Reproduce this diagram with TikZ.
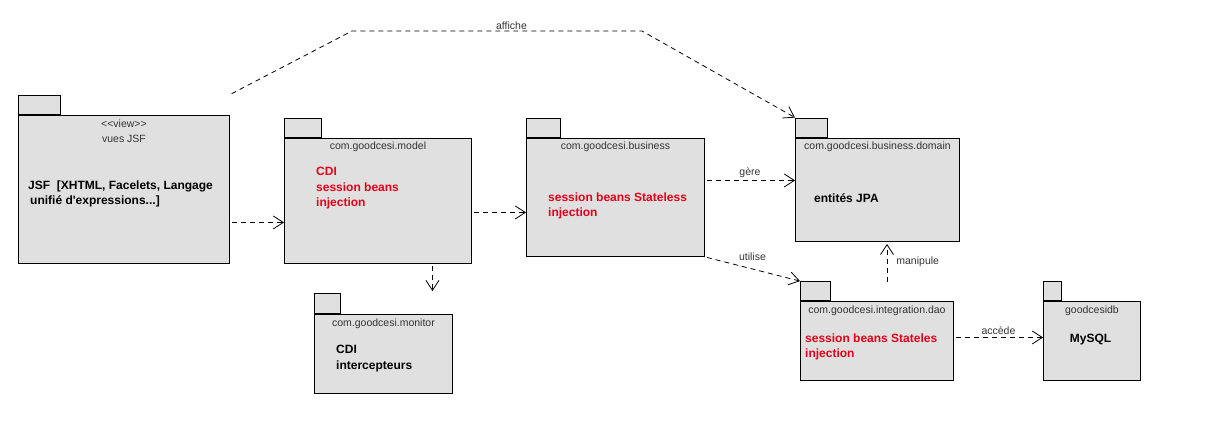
\documentclass[tikz,border=0pt]{standalone}
\usepackage{fontspec}
\setmainfont{Liberation Sans}
\usetikzlibrary{arrows.meta, positioning, calc}
\definecolor{pkgfill}{RGB}{224,224,224}
\definecolor{pkgred}{RGB}{228,0,24}
\definecolor{labelgray}{RGB}{51,51,51}

\begin{document}
\begin{tikzpicture}[x=1pt, y=-1pt]

% TikZ styles
\tikzset{
  pkg/.style={rectangle, draw=black, fill=pkgfill, line width=0.9pt, inner sep=0pt, anchor=north west},
  pkgtab/.style={rectangle, draw=black, fill=pkgfill, line width=0.9pt, inner sep=0pt, anchor=south west, minimum height=19.5pt},
  pkgtitle/.style={font=\fontsize{10.5}{12}\selectfont, text=labelgray, inner sep=0pt, anchor=base},
  content/.style={font=\fontsize{12}{15.5}\selectfont\bfseries, align=left, inner sep=0pt, anchor=north west},
  redcontent/.style={content, text=pkgred},
  dep/.style={-{Straight Barb[length=10pt, width=13pt]}, dash pattern=on 5pt off 4pt, line width=0.8pt},
  deplabel/.style={font=\fontsize{10.5}{12}\selectfont, text=labelgray, inner sep=1pt}
}

\useasboundingbox (0,0) rectangle (1206,428);

%==========================
% Pakete
%==========================
\node[pkg, minimum width=211pt, minimum height=148pt] (view) at (18,115) {};
\node[pkgtab, minimum width=42pt] (viewtab) at (view.north west) {};
\node[pkgtitle] at (124,127) {<\kern0pt<view>\kern0pt>};
\node[pkgtitle] at (124,142.5) {vues JSF};
\node[content] (viewtext) at (28,180.3) {JSF\ \ [XHTML, Facelets, Langage\\\hspace*{2pt}unifié d\textquotesingle expressions...]};

\node[pkg, minimum width=187pt, minimum height=125pt] (model) at (284,138) {};
\node[pkgtab, minimum width=37pt] (modeltab) at (model.north west) {};
\node[pkgtitle] at ([yshift=-11pt]model.north) {com.goodcesi.model};
\node[redcontent] (modeltext) at (316,167.1) {CDI\\session beans\\injection};

\node[pkg, minimum width=178pt, minimum height=118pt] (business) at (526,138) {};
\node[pkgtab, minimum width=34pt] (businesstab) at (business.north west) {};
\node[pkgtitle] at ([yshift=-11pt]business.north) {com.goodcesi.business};
\node[redcontent] (businesstext) at (548,192.3) {session beans Stateless\\injection};

\node[pkg, minimum width=164pt, minimum height=103pt] (domain) at (795,138) {};
\node[pkgtab, minimum width=32pt] (domaintab) at (domain.north west) {};
\node[pkgtitle] at ([yshift=-11pt]domain.north) {com.goodcesi.business.domain};
\node[content, anchor=base west] (domaintext) at (814,202.3) {entités JPA};

\node[pkg, minimum width=153pt, minimum height=79pt] (dao) at (800,301) {};
\node[pkgtab, minimum width=30pt, minimum height=19pt] (daotab) at (dao.north west) {};
\node[pkgtitle] at ([yshift=-12pt]dao.north) {com.goodcesi.integration.dao};
\node[redcontent] (daotext) at (805,333.3) {session beans Stateles\\injection};

\node[pkg, minimum width=97pt, minimum height=79pt] (db) at (1043,301) {};
\node[pkgtab, minimum width=18pt, minimum height=19pt] (dbtab) at (db.north west) {};
\node[pkgtitle] at ([yshift=-12pt]db.north) {goodcesidb};
\node[content, anchor=base] (dbtext) at (1090.5,342.9) {MySQL};

\node[pkg, minimum width=138pt, minimum height=79pt] (monitor) at (314,314) {};
\node[pkgtab, minimum width=26pt, minimum height=20pt] (monitortab) at (monitor.north west) {};
\node[pkgtitle] at ([yshift=-12pt]monitor.north) {com.goodcesi.monitor};
\node[content] (monitortext) at (336,345) {CDI\\intercepteurs};

%==========================
% Abhaengigkeiten
%==========================
\coordinate (afficheA) at (352,31);
\coordinate (afficheB) at (642,31);
\coordinate (manip) at (887,282);

\draw[dep, shorten <=2pt] (viewtab.north -| view.east) -- (afficheA)
  -- node[deplabel, above, pos=0.55] {affiche} (afficheB) -- (domaintab.north west);

\draw[dep, shorten <=2pt] ([yshift=-33pt]view.east) -- ([yshift=-33pt]view.east -| model.west);
\draw[dep, shorten <=2pt] ([yshift=-11.5pt]model.east) -- ([yshift=-11.5pt]model.east -| business.west);
\draw[dep, shorten <=2pt] ([yshift=17pt]business.east) -- node[deplabel, above=1pt] {gère} ([yshift=17pt]business.east -| domain.west);
\draw[dep, shorten <=2pt] (business.south east) -- node[deplabel, above=7pt] {utilise} (daotab.north west);
\draw[dep, shorten >=2pt] (manip) -- node[deplabel, right=8pt] {manipule} (manip |- domain.south);
\draw[dep, shorten <=2pt] ([yshift=3.5pt]dao.east) -- node[deplabel, above=1pt] {accède} ([yshift=3.5pt]dao.east -| db.west);
\draw[dep, shorten <=2pt, shorten >=2pt] ([xshift=54.5pt]model.south) -- ([xshift=54.5pt]model.south |- monitortab.north);

\end{tikzpicture}
\end{document}
